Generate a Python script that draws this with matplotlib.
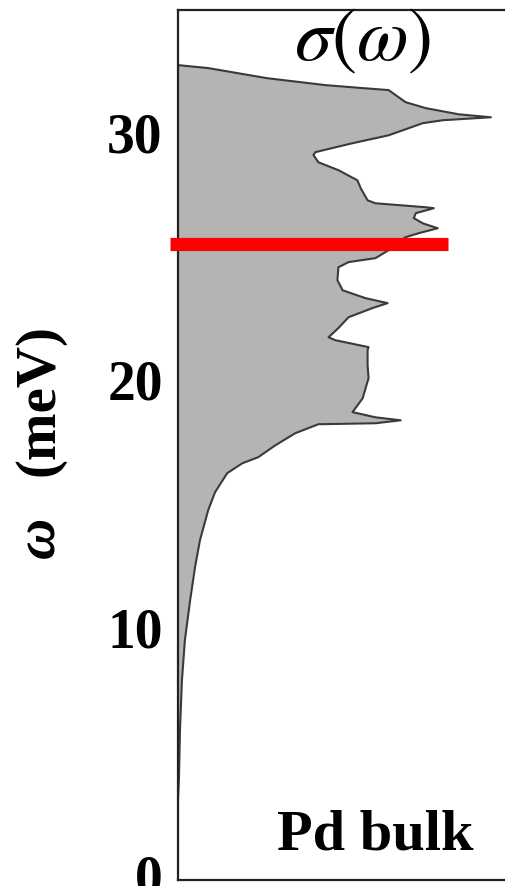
import matplotlib
matplotlib.use("Agg")
import matplotlib.pyplot as plt
import numpy as np

# ---- data ----
omega = [32.74, 32.62, 32.21, 31.93, 31.81, 31.73, 31.24, 31.00, 30.75, 30.63,
         30.51, 30.39, 29.90, 29.58, 29.22, 29.10, 28.81, 28.49, 28.08, 27.76,
         27.27, 27.15, 26.99, 26.95, 26.75, 26.55, 26.34, 26.14, 25.94, 25.78,
         25.49, 25.25, 24.93, 24.77, 24.56, 24.04, 23.63, 23.31, 23.11, 22.91,
         22.54, 22.10, 21.73, 21.61, 21.33, 21.21, 20.60, 20.07, 19.67, 19.26,
         18.70, 18.49, 18.37, 18.25, 18.21, 17.85, 17.36, 16.88, 16.63, 16.23,
         15.46, 14.73, 13.52, 12.43, 11.09, 9.47, 7.85, 5.83, 3.93, 3.00, 0.0]
sigma = [0.000, 0.092, 0.272, 0.450, 0.563, 0.642, 0.694, 0.755, 0.856, 0.954,
         0.807, 0.746, 0.642, 0.532, 0.419, 0.413, 0.428, 0.489, 0.547, 0.557,
         0.578, 0.602, 0.755, 0.780, 0.725, 0.719, 0.746, 0.792, 0.734, 0.694,
         0.664, 0.642, 0.602, 0.520, 0.489, 0.486, 0.502, 0.572, 0.639, 0.593,
         0.520, 0.489, 0.459, 0.480, 0.581, 0.578, 0.578, 0.581, 0.572, 0.563,
         0.532, 0.602, 0.679, 0.602, 0.428, 0.358, 0.297, 0.245, 0.196, 0.150,
         0.113, 0.092, 0.067, 0.052, 0.037, 0.021, 0.012, 0.006, 0.003, 0.000, 0.000]
red_line_omega = [25.52, 25.52]
red_line_sigma = [-0.024, 0.823]
yticks = [0, 10, 20, 30]
ytick_labels = ["0", "10", "20", "30"]

W, H = 506, 886
fig = plt.figure(figsize=(W / 100, H / 100), dpi=100)
fig.patch.set_facecolor("white")
ax = fig.add_axes([178 / W, (H - 880) / H, (W - 178) / W, (880 - 10) / H])

ax.fill_betweenx(omega, 0, sigma, facecolor="#b4b4b4", edgecolor="none", zorder=1)
ax.plot(sigma, omega, color="#3a3a3a", lw=1.5, zorder=2)
ax.plot(red_line_sigma, red_line_omega, color="#ff0000", lw=9.5,
        solid_capstyle="butt", clip_on=False, zorder=3)

ax.set_xlim(0, 1)
ax.set_ylim(-0.23, 34.97)
ax.set_xticks([])
ax.set_yticks(yticks)
ax.set_yticklabels(ytick_labels, fontfamily="Liberation Serif",
                   fontweight="bold", fontsize=40)
ax.tick_params(axis="y", length=0, pad=11)

for side in ["left", "top", "bottom"]:
    ax.spines[side].set_linewidth(1.6)
    ax.spines[side].set_color("#222222")
ax.spines["right"].set_visible(False)

# title sigma(omega)
plt.rcParams["mathtext.fontset"] = "stix"
fig.text(363 / W, (H - 60) / H, r"$\sigma(\omega)$", fontsize=54,
         ha="center", va="baseline", color="black")

# Pd bulk label
fig.text(375 / W, (H - 850) / H, "Pd bulk", fontfamily="Liberation Serif",
         fontweight="bold", fontsize=42, ha="center", va="baseline")

# y label: omega (meV)
fig.text(40 / W, (H - 400) / H, "(meV)", fontfamily="Liberation Serif",
         fontweight="bold", fontsize=41, rotation=90, ha="center", va="center")
fig.text(40 / W, (H - 537) / H, "ω", fontfamily="Liberation Serif",
         fontweight="bold", fontstyle="italic", fontsize=41, rotation=90,
         ha="center", va="center")

fig.savefig("out.png", dpi=100)
